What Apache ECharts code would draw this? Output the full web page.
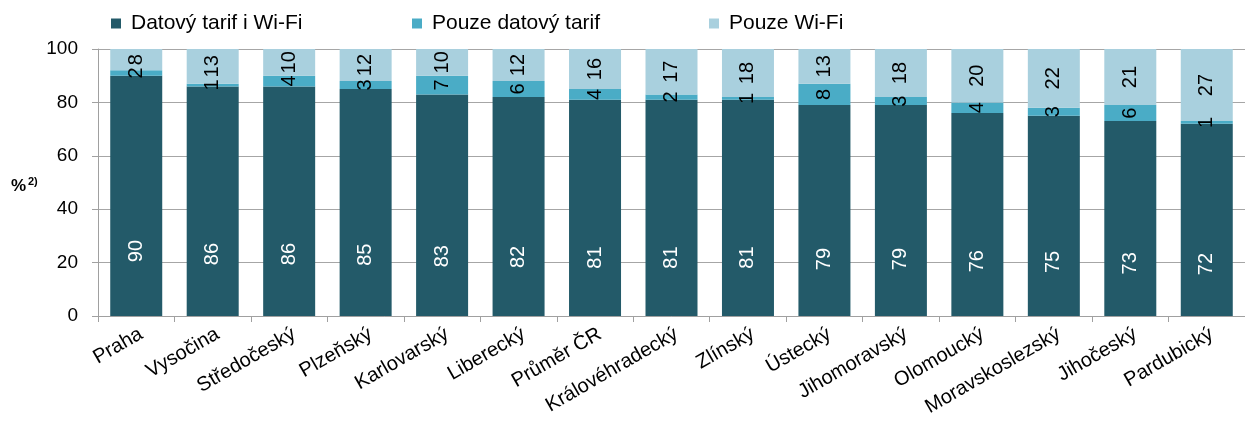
<!DOCTYPE html>
<html><head><meta charset="utf-8">
<script src="https://cdn.jsdelivr.net/npm/echarts@6/dist/echarts.min.js"></script>
<style>html,body{margin:0;padding:0;background:#fff}#c{width:1245px;height:432px}</style>
</head><body><div id="c"></div>
<script>
const categories = ['Praha','Vysočina','Středočeský','Plzeňský','Karlovarský','Liberecký','Průměr ČR','Královéhradecký','Zlínský','Ústecký','Jihomoravský','Olomoucký','Moravskoslezský','Jihočeský','Pardubický'];
const datovyIWifi = [90,86,86,85,83,82,81,81,81,79,79,76,75,73,72];
const pouzeDatovy = [2,1,4,3,7,6,4,2,1,8,3,4,3,6,1];
const pouzeWifi = [8,13,10,12,10,12,16,17,18,13,18,20,22,21,27];
const yTicks = [0,20,40,60,80,100];
const seriesNames = ['Datový tarif i Wi-Fi','Pouze datový tarif','Pouze Wi-Fi'];

const FONT = 'Liberation Sans, Arial, sans-serif';
const chart = echarts.init(document.getElementById('c'), null, {renderer:'canvas'});
function ser(name, data, color, labelColor, pos){
  return {name, type:'bar', stack:'s', data, barWidth:52,
    itemStyle:{color},
    label:{show:true, position:pos, rotate:90, align:'center', verticalAlign:'middle',
      color:labelColor, fontSize:20, fontFamily:FONT},
    emphasis:{disabled:true}};
}
const legendLefts = [106, 407, 704];
chart.setOption({
  animation:false,
  textStyle:{fontFamily:FONT},
  legend: seriesNames.map((n,i)=>({left:legendLefts[i], top:8, itemWidth:10, itemHeight:10, icon:'rect',
    textStyle:{fontSize:21, color:'#000', fontFamily:FONT, padding:[0,0,0,5]},
    data:[n]})),
  grid:{left:98, top:49, width:1157, bottom:116, containLabel:false},
  graphic:[
    {type:'text', left:11, top:178, style:{text:'%', font:'bold 17px '+FONT, fill:'#000'}},
    {type:'text', left:28, top:176, style:{text:'2)', font:'bold 11px '+FONT, fill:'#000'}}
  ],
  xAxis:{type:'category', data:categories,
    axisLine:{lineStyle:{color:'#a0a0a0', width:1}},
    axisTick:{show:true, length:6, lineStyle:{color:'#a0a0a0'}},
    axisLabel:{rotate:30, interval:0, fontSize:20, color:'#000', fontFamily:FONT, margin:8,
      verticalAlign:'top'}},
  yAxis:{type:'value', min:0, max:100, interval:20,
    axisLine:{show:true, lineStyle:{color:'#a0a0a0'}},
    axisTick:{show:true, length:6, lineStyle:{color:'#a0a0a0'}},
    axisLabel:{fontSize:19, color:'#000', fontFamily:FONT, margin:20,
      formatter:v=>yTicks.includes(v)?String(v):''},
    splitLine:{lineStyle:{color:'#a6a6a6', width:1}}},
  series:[
    ser(seriesNames[0], datovyIWifi, '#235a69', '#fff', ['50%','73%']),
    ser(seriesNames[1], pouzeDatovy, '#4aacc6', '#000', ['50%','50%']),
    ser(seriesNames[2], pouzeWifi, '#a9d0de', '#000', ['50%','50%'])
  ]
});
</script></body></html>
